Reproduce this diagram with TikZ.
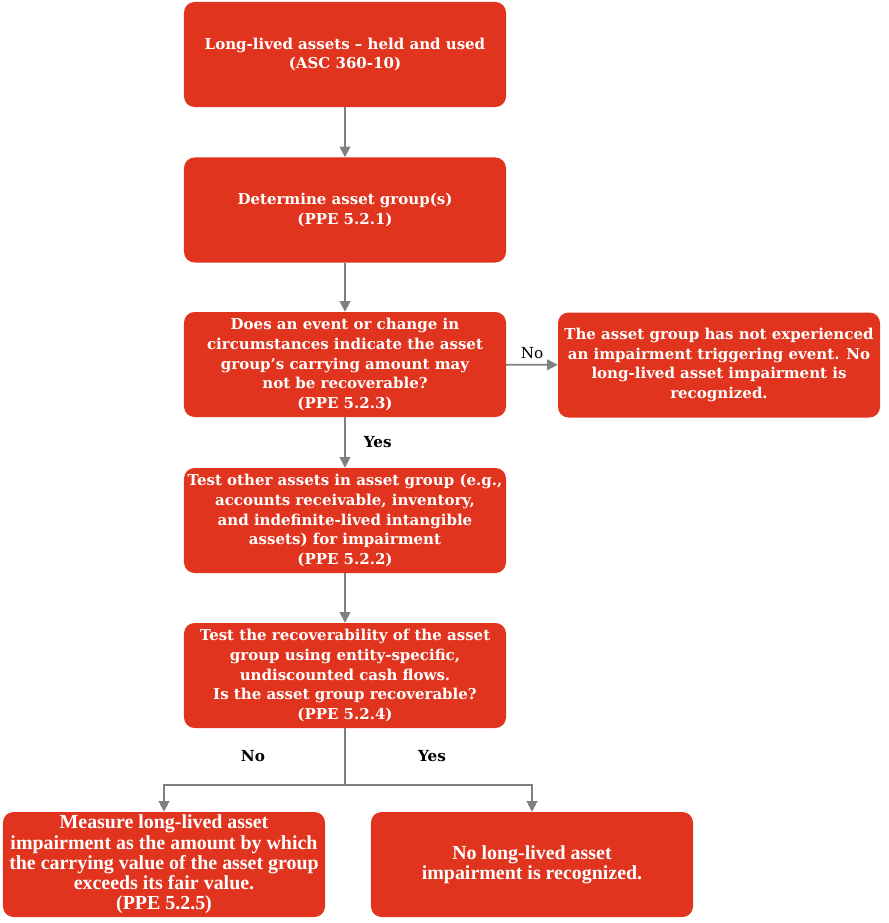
\documentclass[tikz,border=0pt]{standalone}
\usepackage{fontspec}
\setmainfont{DejaVu Serif}
\newfontfamily\narrowfont{Liberation Serif}
\usepackage{tikz}
\usetikzlibrary{calc,positioning,arrows.meta}
\definecolor{pwcred}{HTML}{E0341E}
\definecolor{arrgray}{HTML}{808080}

\begin{document}
\begin{tikzpicture}[x=0.03cm, y=-0.03cm]
\tikzstyle{box}=[rectangle, rounded corners=9pt, fill=pwcred, text=white,
                 minimum width=9.66cm, minimum height=3.15cm, align=center,
                 inner sep=1pt, font=\bfseries\fontsize{12.8}{17}\selectfont]
\tikzstyle{nbox}=[box, font=\narrowfont\bfseries\fontsize{17}{17.2}\selectfont]
\tikzstyle{arr}=[draw=arrgray, line width=1.5pt, -{Triangle[width=9pt,length=9pt]}]
\tikzstyle{lbl}=[font=\bfseries\fontsize{13}{15}\selectfont]
\useasboundingbox (0,0) rectangle (888,923);
\node[box] (held) at (345,54.5) {Long-lived assets -- held and used\\(ASC 360-10)};
\node[box] (group) at (345,210) {Determine asset group(s)\\(PPE 5.2.1)};
\node[box] (event) at (345,364.5) {Does an event or change in\\circumstances indicate the asset\\group’s carrying amount may\\not be recoverable?\\(PPE 5.2.3)};
\node[box] (noevent) at (719,365) {The asset group has not experienced\\an impairment triggering event. No\\long-lived asset impairment is\\recognized.};
\node[box] (other) at (345,520.5) {Test other assets in asset group (e.g.,\\accounts receivable, inventory,\\and indefinite-lived intangible\\assets) for impairment\\(PPE 5.2.2)};
\node[box] (recov) at (345,675.5) {Test the recoverability of the asset\\group using entity-specific,\\undiscounted cash flows.\\Is the asset group recoverable?\\(PPE 5.2.4)};
\node[nbox] (measure) at (164,864.5) {Measure long-lived asset\\impairment as the amount by which\\the carrying value of the asset group\\exceeds its fair value.\\(PPE 5.2.5)};
\node[nbox] (noimp) at (532,864.5) {No long-lived asset\\impairment is recognized.};
\coordinate (split) at (345,785);
% connectors
\draw[arr] (held) -- (group);
\draw[arr] (group) -- (event);
\draw[arr] (event) -- node[lbl, right=12pt]{Yes} (other);
\draw[arr] (event) -- node[above=1pt, font=\fontsize{13}{15}\selectfont]{No} (noevent);
\draw[arr] (other) -- (recov);
\draw[draw=arrgray, line width=1.5pt] (recov) -- (split);
\draw[arr] (split) -| (measure);
\draw[arr] (split) -| (noimp);
\node[lbl] (nolbl) at (253,756) {No};
\node[lbl] (yeslbl) at (432,756) {Yes};
\end{tikzpicture}
\end{document}
